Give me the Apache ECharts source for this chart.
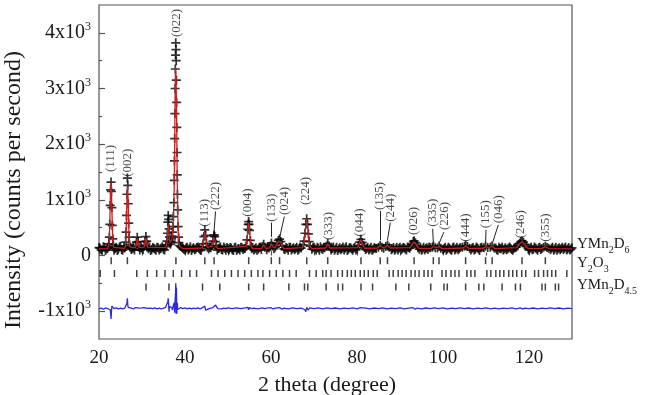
<!DOCTYPE html>
<html><head><meta charset="utf-8">
<script src="https://cdn.jsdelivr.net/npm/echarts@6/dist/echarts.min.js"></script>
<style>html,body{margin:0;padding:0;background:#fff}#c{width:645px;height:395px}</style>
</head><body><div id="c"></div>
<script>
// ---------- DATA ----------
// observed intensity [2theta, counts]
const obsPoints = [
[20.0,142],[20.5,102],[21.0,155],[21.5,90],[22.0,128],
[22.2,160],[22.3,210],[22.4,330],[22.5,560],[22.6,900],[22.7,1180],[22.8,1320],[22.9,1150],[23.0,860],[23.1,540],[23.2,300],[23.3,190],[23.4,150],
[23.5,96],[24.0,147],[24.5,111],[25.0,164],[25.5,95],[26.0,133],
[26.1,170],[26.2,240],[26.3,420],[26.4,720],[26.5,1100],[26.6,1390],[26.7,1260],[26.8,930],[26.9,580],[27.0,330],[27.1,200],[27.2,150],
[27.5,108],[28.0,139],[28.5,160],[28.7,240],[28.9,330],[29.1,250],[29.3,150],[29.5,101],[30.0,131],[30.5,165],[30.7,250],[30.9,340],[31.1,260],[31.3,160],
[31.5,120],[32.0,88],[32.5,143],[33.0,117],[33.5,150],[34.0,97],[34.5,134],[35.0,112],[35.5,158],
[35.7,190],[35.8,260],[35.9,400],[36.0,600],[36.1,720],[36.2,650],[36.3,480],[36.4,330],[36.5,240],[36.6,200],[36.7,230],[36.8,260],[36.9,300],
[37.0,350],[37.1,420],[37.2,520],[37.3,700],[37.4,950],[37.5,1350],[37.55,1700],[37.6,2100],[37.65,2550],[37.7,3000],[37.75,3350],[37.8,3600],
[37.85,3820],[37.9,3700],[37.95,3500],[38.0,3150],[38.05,2750],[38.1,2300],[38.15,1850],[38.2,1450],[38.25,1100],[38.3,820],[38.4,520],[38.5,330],[38.6,230],[38.7,180],
[39.0,160],[39.5,128],[40.0,101],[40.5,146],[41.0,123],[41.5,92],[42.0,137],[42.5,115],[43.0,153],[43.5,104],
[44.0,150],[44.2,210],[44.4,340],[44.6,460],[44.8,360],[45.0,220],[45.2,150],[45.5,118],[46.0,141],
[46.3,180],[46.5,260],[46.7,350],[46.8,370],[46.9,340],[47.1,250],[47.3,170],
[47.5,97],[48.0,133],[48.5,110],[49.0,152],[49.5,93],[50.0,127],[50.5,145],[51.0,104],[51.5,138],[52.0,89],[52.5,124],[53.0,149],[53.5,106],[54.0,131],
[54.2,170],[54.4,280],[54.6,470],[54.7,560],[54.8,610],[54.9,560],[55.0,450],[55.2,270],[55.4,160],
[55.5,121],[56.0,99],[56.5,140],[57.0,112],[57.5,151],[58.0,160],[58.3,200],[58.6,150],[59.0,102],[59.5,135],
[59.8,170],[60.1,225],[60.4,170],[60.7,120],[61.0,150],[61.4,210],[61.7,270],[62.0,295],[62.3,250],[62.6,170],[63.0,118],
[63.5,144],[64.0,96],[64.5,150],[65.0,123],[65.5,104],[66.0,147],[66.5,115],[67.0,133],
[67.5,190],[67.7,260],[67.9,400],[68.1,560],[68.3,660],[68.5,560],[68.7,390],[68.9,250],[69.1,170],
[69.5,112],[70.0,146],[70.5,98],[71.0,129],[71.5,156],[72.0,107],[72.5,138],[72.9,170],[73.2,215],[73.5,170],[73.9,130],
[74.0,101],[74.5,152],[75.0,118],[75.5,92],[76.0,141],[76.5,126],[77.0,99],[77.5,155],[78.0,113],[78.5,137],[79.0,95],[79.5,148],[80.0,121],
[80.3,170],[80.6,240],[80.9,290],[81.2,235],[81.5,165],
[82.0,108],[82.5,146],[83.0,119],[83.5,94],[84.0,139],[84.5,127],[85.0,150],[85.4,185],[85.8,150],[86.2,130],[86.7,160],[87.1,190],[87.5,150],
[88.0,103],[88.5,142],[89.0,116],[89.5,97],[90.0,149],[90.5,121],[91.0,135],[91.5,100],[92.0,144],
[92.5,160],[92.8,200],[93.1,250],[93.3,265],[93.6,230],[93.9,180],[94.2,140],
[94.5,112],[95.0,95],[95.5,148],[96.0,124],[96.5,106],[97.0,139],[97.5,150],[97.8,172],[98.2,140],[98.7,135],[99.1,168],[99.5,130],
[100.0,102],[100.5,147],[101.0,118],[101.5,131],[102.0,96],[102.5,151],[103.0,122],[103.5,105],[104.0,142],[104.5,150],[105.0,165],[105.3,178],[105.7,160],[106.2,128],
[106.5,99],[107.0,145],[107.5,113],[108.0,136],[108.5,92],[109.0,150],[109.5,140],[109.9,168],[110.4,145],[111.0,150],[111.4,170],[111.9,135],
[112.5,104],[113.0,147],[113.5,121],[114.0,97],[114.5,140],[115.0,116],[115.5,153],[116.0,108],[116.5,131],[117.0,148],
[117.4,175],[117.8,220],[118.1,250],[118.4,262],[118.7,240],[119.0,200],[119.4,160],
[119.8,121],[120.0,99],[120.5,146],[121.0,114],[121.5,135],[122.0,93],[122.5,150],[123.0,127],[123.4,150],[123.8,165],[124.2,145],[124.6,128],
[125.0,103],[125.5,149],[126.0,117],[126.5,96],[127.0,141],[127.5,124],[128.0,108],[128.5,152],[129.0,119],[129.5,97],[130.0,138]
];
// further observed background points between the ones above [2theta, counts]
const obsPointsBetween = [
[20.25,131],[20.75,96],[21.25,149],[21.75,118],[23.75,127],[24.25,92],[24.75,151],[25.25,109],[25.75,140],
[27.75,123],[28.25,98],[29.75,144],[30.25,110],[31.75,152],[32.25,106],[32.75,128],[33.25,94],[33.75,139],[34.25,121],[34.75,156],[35.25,101],
[39.25,147],[39.75,112],[40.25,135],[40.75,99],[41.25,158],[41.75,120],[42.25,103],[42.75,142],[43.25,126],[43.75,91],
[45.75,150],[47.75,124],[48.25,154],[48.75,97],[49.25,129],[49.75,145],[50.25,108],[50.75,136],[51.25,92],[51.75,149],[52.25,117],[52.75,101],[53.25,140],[53.75,125],
[55.75,144],[56.25,118],[56.75,93],[57.25,137],[57.75,109],[59.25,148],
[63.25,107],[63.75,131],[64.25,149],[64.75,98],[65.25,140],[65.75,126],[66.25,95],[66.75,152],
[69.75,139],[70.25,118],[70.75,150],[71.25,96],[71.75,127],[72.25,144],
[74.25,127],[74.75,95],[75.25,146],[75.75,119],[76.25,104],[76.75,151],[77.25,130],[77.75,92],[78.25,141],[78.75,117],[79.25,132],[79.75,100],
[81.75,142],[82.25,126],[82.75,97],[83.25,150],[83.75,113],[84.25,131],
[88.25,121],[88.75,96],[89.25,150],[89.75,128],[90.25,105],[90.75,143],[91.25,117],[91.75,153],[92.25,129],
[94.75,150],[95.25,118],[95.75,101],[96.25,139],[96.75,152],
[100.25,124],[100.75,93],[101.25,150],[101.75,110],[102.25,138],[102.75,99],[103.25,147],[103.75,120],
[106.75,131],[107.25,98],[107.75,152],[108.25,117],[108.75,140],
[112.25,133],[112.75,95],[113.25,125],[113.75,151],[114.25,116],[114.75,102],[115.25,136],[115.75,127],[116.25,94],[116.75,145],
[120.25,131],[120.75,102],[121.25,152],[121.75,119],[122.25,137],[122.75,108],
[125.25,128],[125.75,94],[126.25,146],[126.75,123],[127.25,105],[127.75,150],[128.25,131],[128.75,97],[129.25,142],[129.75,116]
];
// calculated profile [2theta, counts]
const calcPoints = [
[20.0,118],[22.0,122],[22.2,150],[22.3,200],[22.4,320],[22.5,560],[22.6,920],[22.7,1230],[22.8,1300],[22.9,1120],[23.0,820],[23.1,510],[23.2,290],[23.3,185],[23.4,145],[23.6,125],
[26.0,128],[26.1,165],[26.2,230],[26.3,400],[26.4,690],[26.5,1040],[26.6,1250],[26.7,1180],[26.8,890],[26.9,560],[27.0,320],[27.1,195],[27.2,150],[27.4,126],
[28.5,140],[28.7,220],[28.9,300],[29.1,230],[29.3,145],[29.6,124],[30.5,150],[30.7,240],[30.9,310],[31.1,245],[31.3,150],[31.6,122],
[35.5,140],[35.7,180],[35.8,240],[35.9,350],[36.0,480],[36.1,540],[36.2,500],[36.3,400],[36.4,300],[36.5,230],[36.6,200],[36.7,215],[36.8,245],[36.9,285],
[37.0,330],[37.1,400],[37.2,500],[37.3,660],[37.4,900],[37.5,1250],[37.55,1580],[37.6,1950],[37.65,2400],[37.7,2850],[37.75,3180],[37.8,3370],[37.85,3380],
[37.9,3250],[37.95,3050],[38.0,2780],[38.05,2450],[38.1,2080],[38.15,1700],[38.2,1350],[38.25,1030],[38.3,780],[38.4,490],[38.5,320],[38.6,220],[38.7,170],[39.0,135],[39.5,122],
[44.0,135],[44.2,200],[44.4,320],[44.6,420],[44.8,340],[45.0,210],[45.2,145],[45.5,122],
[46.3,170],[46.5,245],[46.7,330],[46.8,350],[46.9,325],[47.1,240],[47.3,160],[47.6,122],
[54.2,165],[54.4,270],[54.6,455],[54.7,545],[54.8,590],[54.9,545],[55.0,440],[55.2,265],[55.4,160],[55.7,122],
[57.8,125],[58.3,190],[58.8,125],[59.7,140],[60.1,210],[60.5,150],[61.0,145],[61.4,200],[61.7,260],[62.0,280],[62.3,240],[62.6,165],[63.0,122],
[67.4,140],[67.7,250],[67.9,385],[68.1,540],[68.3,640],[68.5,545],[68.7,380],[68.9,245],[69.1,165],[69.5,122],
[72.7,135],[73.2,205],[73.7,135],[80.1,140],[80.6,230],[80.9,280],[81.2,225],[81.7,130],
[84.8,135],[85.4,178],[86.0,140],[86.6,150],[87.1,182],[87.7,135],
[92.4,140],[92.8,190],[93.1,240],[93.3,252],[93.6,222],[93.9,175],[94.4,128],
[97.2,128],[97.8,162],[98.4,140],[99.1,160],[99.8,124],[104.6,135],[105.3,170],[106.0,128],
[109.3,130],[109.9,160],[110.6,140],[111.4,162],[112.1,124],
[117.2,140],[117.8,210],[118.1,240],[118.4,252],[118.7,230],[119.0,195],[119.5,140],[120.0,122],
[123.0,128],[123.8,158],[124.6,125],[130.0,120]
];
// difference (obs - calc) [2theta, counts]
const diffPoints = [
[20.0,-10],[20.5,5],[21.0,-15],[21.5,8],[22.0,-5],[22.4,10],[22.6,-20],[22.7,-90],[22.8,-190],[22.9,-60],[23.0,40],[23.2,10],[23.5,-5],
[24.0,8],[24.5,-10],[25.0,6],[25.5,-8],[26.0,5],[26.3,20],[26.5,90],[26.6,180],[26.7,60],[26.8,20],[27.0,-15],[27.5,5],
[28.0,-10],[28.5,15],[28.9,40],[29.3,5],[29.5,-5],[30.0,10],[30.5,15],[30.9,35],[31.3,0],[31.5,-8],[32.0,5],[32.5,-6],[33.0,8],[33.5,-10],
[34.0,4],[34.5,-7],[35.0,6],[35.5,20],[35.8,30],[36.0,120],[36.1,180],[36.2,150],[36.3,-60],[36.4,30],[36.6,10],[36.9,20],[37.1,-30],
[37.3,60],[37.5,100],[37.6,-80],[37.7,150],[37.8,280],[37.85,450],[37.9,380],[37.95,-100],[38.0,370],[38.1,-90],[38.2,100],[38.3,-20],
[38.5,10],[38.7,-15],[39.0,15],[39.5,-5],[40.0,8],[40.5,-8],[41.0,5],[41.5,-10],[42.0,6],[42.5,-4],[43.0,10],[43.5,-8],
[44.0,10],[44.4,20],[44.6,40],[44.8,-30],[45.0,-60],[45.2,5],[45.5,-8],[46.0,5],[46.5,15],[46.8,20],[47.1,60],[47.3,30],[47.6,-5],
[48.0,6],[48.5,-8],[49.0,5],[49.5,-6],[50.0,8],[51,-6],[52,10],[53,-5],[54,8],[54.6,20],[54.8,-25],[55.0,15],[55.5,-6],[56,5],[57,-8],
[58,10],[58.5,-5],[59,6],[60,12],[60.5,-10],[61,5],[62,15],[62.5,-12],[63,4],[64,-7],[65,9],[66,-5],[67,6],[67.8,-20],[68.1,-60],[68.3,20],
[68.6,-30],[69,10],[70,-6],[71,8],[72,-9],[73,10],[74,-5],[75,7],[76,-8],[77,6],[78,-4],[79,9],[80,-7],[80.8,15],[81.2,-10],[82,5],[83,-8],
[84,7],[85,-5],[86,10],[87,-9],[88,6],[89,-5],[90,8],[91,-7],[92,5],[93,12],[93.5,-15],[94,6],[95,-8],[96,7],[97,-5],[98,9],[99,-6],[100,8],
[101,-9],[102,5],[103,-6],[104,9],[105,-4],[106,7],[107,-8],[108,5],[109,-6],[110,10],[111,-7],[112,6],[113,-9],[114,5],[115,-4],[116,8],
[117,-7],[118,10],[118.5,-12],[119,6],[120,-5],[121,7],[122,-8],[123,5],[124,-6],[125,9],[126,-5],[127,7],[128,-8],[129,5],[130,-4]
];
// Bragg reflection positions (2theta) of the three phases
const braggYMn2D6 = [22.83,26.6,37.89,44.61,46.77,54.81,60.07,61.99,68.32,73.19,80.93,85.4,87.09,93.28,97.75,99.07,105.26,109.9,111.43,118.38,123.8];
const braggY2O3 = [20.28,23.59,28.78,31.24,33.42,35.34,37.27,39.21,41.14,42.69,46.16,47.69,49.25,50.8,52.33,53.88,55.43,56.96,58.12,59.68,
  61.23,62.76,64.31,65.86,68.95,70.5,72.03,72.82,73.97,75.5,76.59,77.75,78.68,79.6,80.76,81.69,82.62,83.78,84.7,87.48,88.41,89.57,90.49,
  91.42,92.58,93.51,94.43,95.59,96.52,97.45,99.77,100.69,101.85,102.78,103.71,105.56,106.49,107.42,110.2,111.13,112.29,113.21,114.14,
  115.3,116.22,117.15,118.31,119.24,121.3,122.2,123.4,124.3,125.3,126.2,128.8];
const braggYMn2D45 = [30.94,36.27,44.08,48.09,54.81,58.29,64.15,67.79,68.55,72.82,75.6,76.66,80.93,83.62,89.04,92.05,97.15,100.23,101.0,
  105.26,108.34,109.5,113.74,116.85,118.0,123.01,123.8,126.12,126.88];
// Miller-index annotations: text, 2theta of label, intensity at the label foot
const hklText = ['(111)','(002)','(022)','(113)','(222)','(004)','(133)','(024)','(224)','(333)','(044)','(135)','(244)','(026)','(335)','(226)','(444)','(155)','(046)','(246)','(355)'];
const hklTheta = [22.76,26.65,38.0,44.61,47.16,54.5,60.07,63.15,68.1,73.42,80.53,85.3,87.9,93.05,97.5,100.3,105.26,110.0,113.0,118.0,123.8];
const hklCounts = [1500,1415,3925,517,817,697,607,727,907,278,338,817,607,368,517,458,248,489,578,309,248];
// leader lines [2theta1, counts1, 2theta2, counts2]
const hklLeaders = [[47.1,790,46.75,430],[60.07,590,60.07,335],[63.1,700,62.0,320],[85.3,800,85.3,280],[87.75,590,87.1,280],
  [97.6,480,97.75,220],[100.2,420,99.1,220],[110.0,460,109.9,220],[112.85,550,111.5,220]];

// ---------- layout constants ----------
const diffOffset = -950;
const tickRowLevels = [-93, -323, -566];
const serif = '"Liberation Serif","Times New Roman",serif';
const txt = '#1a1a1a';
const frame = '#555';

const chart = echarts.init(document.getElementById('c'), null, {renderer: 'canvas'});
const plus = 'path://M4.05,0H5.95V4.05H10V5.95H5.95V10H4.05V5.95H0V4.05H4.05Z';

const G = {left: 99, right: 73, top: 5, bottom: 56};
const pxPerCount = (395 - G.top - G.bottom) / 6000;
const pxPerDeg = (645 - G.left - G.right) / 110;
const G2 = {left: 99, right: G.right + 10 * pxPerDeg, top: G.top + 500 * pxPerCount, bottom: G.bottom + 500 * pxPerCount};

const braggSets = [braggYMn2D6, braggY2O3, braggYMn2D45];
const braggSeries = braggSets.map((arr, i) => ({
  type: 'scatter', xAxisIndex: 0, yAxisIndex: 0, silent: true, z: 4,
  symbol: 'rect', symbolSize: [1.5, 7],
  itemStyle: {color: '#111'},
  data: arr.map(x => [x, tickRowLevels[i]])
}));

const subRich = {
  n: {fontFamily: serif, fontSize: 15, lineHeight: 22, verticalAlign: 'middle', fill: txt, color: txt},
  s: {fontFamily: serif, fontSize: 10, lineHeight: 10, verticalAlign: 'bottom', fill: txt, color: txt}
};

const option = {
  animation: false,
  backgroundColor: '#fff',
  grid: [
    {left: G.left, right: G.right, top: G.top, bottom: G.bottom, show: true, borderColor: frame, borderWidth: 1.2, backgroundColor: 'transparent'},
    {left: G2.left, right: G2.right, top: G2.top, bottom: G2.bottom, show: false}
  ],
  xAxis: [
    {gridIndex: 0, type: 'value', min: 20, max: 130, axisLine: {show: false}, axisTick: {show: false}, axisLabel: {show: false}, splitLine: {show: false}},
    {gridIndex: 1, type: 'value', min: 20, max: 120, interval: 20, offset: 500 * pxPerCount,
     axisLine: {show: false}, splitLine: {show: false},
     axisTick: {show: true, inside: true, length: 5, lineStyle: {color: frame, width: 1.2}},
     minorTick: {show: true, splitNumber: 2, length: 3, lineStyle: {color: frame, width: 1.2}},
     axisLabel: {margin: 10, fontFamily: serif, fontSize: 19, color: txt}}
  ],
  yAxis: [
    {gridIndex: 0, type: 'value', min: -1500, max: 4500, axisLine: {show: false}, axisTick: {show: false}, axisLabel: {show: false}, splitLine: {show: false}},
    {gridIndex: 1, type: 'value', min: -1000, max: 4000, interval: 1000,
     axisLine: {show: false}, splitLine: {show: false},
     axisTick: {show: true, inside: true, length: 6, lineStyle: {color: frame, width: 1.2}},
     minorTick: {show: true, splitNumber: 2, length: 3, lineStyle: {color: frame, width: 1.2}},
     axisLabel: {margin: 8, color: txt,
       formatter: v => v === 0 ? '{n|0}' : '{n|' + (v / 1000) + 'x10}{p|3}',
       rich: {n: {fontFamily: serif, fontSize: 20, lineHeight: 24, verticalAlign: 'middle', color: txt},
              p: {fontFamily: serif, fontSize: 12, lineHeight: 12, verticalAlign: 'top', color: txt}}}}
  ],
  series: [
    {type: 'scatter', name: 'obs', xAxisIndex: 0, yAxisIndex: 0, z: 2, silent: true,
     symbol: plus, symbolSize: 9, itemStyle: {color: '#000'}, data: obsPoints.concat(obsPointsBetween)},
    {type: 'line', name: 'calc', xAxisIndex: 0, yAxisIndex: 0, z: 3, silent: true,
     showSymbol: false, lineStyle: {color: '#c42020', width: 1.3}, data: calcPoints},
    {type: 'line', name: 'diff', xAxisIndex: 0, yAxisIndex: 0, z: 3, silent: true,
     showSymbol: false, lineStyle: {color: '#2a2ae0', width: 1.3}, data: diffPoints.map(p => [p[0], diffOffset + p[1]])},
    ...braggSeries,
    {type: 'scatter', xAxisIndex: 0, yAxisIndex: 0, z: 5, silent: true, symbolSize: 0,
     data: hklText.map((t, i) => ({value: [hklTheta[i], hklCounts[i]], name: t})),
     label: {show: true, position: 'inside', rotate: 90, align: 'left', verticalAlign: 'middle',
             formatter: p => p.name, fontFamily: serif, fontSize: 13, color: txt}},
    {type: 'lines', coordinateSystem: 'cartesian2d', xAxisIndex: 0, yAxisIndex: 0, z: 5, silent: true,
     lineStyle: {color: '#222', width: 1, opacity: 1},
     data: hklLeaders.map(l => ({coords: [[l[0], l[1]], [l[2], l[3]]]}))}
  ],
  graphic: [
    {type: 'text', x: 14, y: 190, rotation: Math.PI / 2,
     style: {text: 'Intensity (counts per second)', font: '24px ' + serif, fill: txt, align: 'center', verticalAlign: 'middle'}},
    {type: 'text', x: 327, y: 385,
     style: {text: '2 theta (degree)', font: '22px ' + serif, fill: txt, align: 'center', verticalAlign: 'middle'}},
    {type: 'text', x: 577, y: 233, style: {text: '{n|YMn}{s|2}{n|D}{s|6}', align: 'left', verticalAlign: 'top', rich: subRich}},
    {type: 'text', x: 577, y: 252, style: {text: '{n|Y}{s|2}{n|O}{s|3}', align: 'left', verticalAlign: 'top', rich: subRich}},
    {type: 'text', x: 577, y: 274, style: {text: '{n|YMn}{s|2}{n|D}{s|4.5}', align: 'left', verticalAlign: 'top', rich: subRich}}
  ]
};
chart.setOption(option);
</script>
</body></html>
